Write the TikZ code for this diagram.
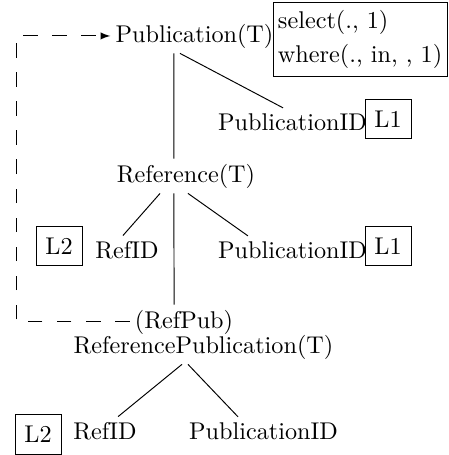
\documentclass[tikz,border=0pt]{standalone}
\begin{document}
\begin{tikzpicture}[x=0.413pt,y=-0.413pt,
				every node/.style={inner sep=2pt,anchor=base},
				lbox/.style={draw,anchor=center,minimum width=19pt,minimum height=16.5pt,inner sep=0pt},
				link/.style={dash pattern=on 6pt off 6pt,-latex}]
\useasboundingbox (0,0) rectangle (448,455);
% upper table
\node (pub) at (194.5,42) {Publication(T)};
\node[draw,anchor=north east,align=left,inner xsep=2pt,inner ysep=3.3pt] (cond) at (447.5,2) {select(., 1)\\[2pt]where(., in, , 1)};
\node (pid1) at (292.5,130) {PublicationID};
\node[lbox] (l1a) at (388,119) {L1};
% middle table
\node (ref) at (186,182) {Reference(T)};
\node (rid1) at (127,258) {RefID};
\node (pid2) at (292.5,258) {PublicationID};
\node[lbox] (l1b) at (388,246) {L1};
\node[lbox] (l2a) at (59,246) {L2};
% lower table
\node (refpub) at (184,328) {(RefPub)};
\node (refpubT) at (203.5,353) {ReferencePublication(T)};
\node (rid2) at (105,439) {RefID};
\node (pid3) at (263.5,439) {PublicationID};
\node[lbox] (l2b) at (38,434.5) {L2};
\coordinate (lft) at (16,0);

\draw ([xshift=-6pt]pub.south) -- ([xshift=-3.9pt]pid1.north);
\draw ([xshift=-8.5pt]pub.south) -- ([xshift=-5pt]ref.north);
\draw ([xshift=-10.7pt]ref.south) -- ([xshift=-1.7pt]rid1.north);
\draw ([xshift=-5pt]ref.south) -- ([xshift=-4.1pt]refpub.north);
\draw ([xshift=0.8pt]ref.south) -- ([xshift=14.5pt]pid2.north west);
\draw ([xshift=-8.9pt]refpubT.south) -- ([xshift=5.4pt]rid2.north);
\draw ([xshift=-6.4pt]refpubT.south) -- ([xshift=-10.5pt]pid3.north);
\draw[link] (refpub.west) -| (lft |- pub.west) -- (pub.west);
\end{tikzpicture}
\end{document}
